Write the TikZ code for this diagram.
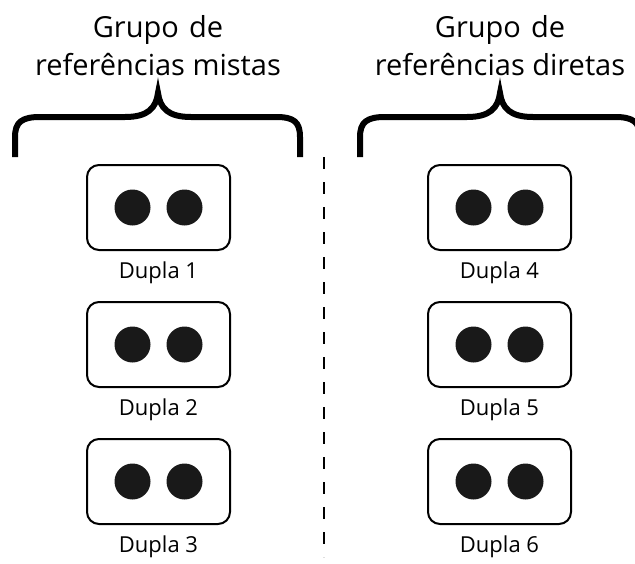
\documentclass[tikz,border=0pt]{standalone}
\usepackage{fontspec}
\setmainfont{Open Sans}
\usetikzlibrary{positioning}

\tikzset{
  pairbox/.style={draw, line width=2pt, rounded corners=12pt, minimum width=143pt, minimum height=85pt, inner sep=0pt},
  pairdot/.style={circle, fill=black!90, minimum size=36pt, inner sep=0pt},
  pairlabel/.style={font=\fontsize{22}{26}\selectfont, inner sep=0pt},
  grouptitle/.style={font=\fontsize{29}{38}\selectfont, align=center, inner sep=0pt},
  groupbrace/.style={line width=6pt, line join=miter},
}

\begin{document}
\begin{tikzpicture}[x=1pt, y=-1pt]
\useasboundingbox (0,0) rectangle (635,563);

% group titles
\node[grouptitle, anchor=base] (titleA) at (158,75) {Grupo\hspace{0.35em}de\\referências mistas};
\node[grouptitle, anchor=base] (titleB) at (500,75) {Grupo\hspace{0.35em}de\\referências diretas};

% braces
\draw[groupbrace] (15,157) -- (15,137) .. controls (15,122) and (22,117) .. (40,117) -- (125,117)
  .. controls (148,117) and (156,108) .. (158,93) .. controls (160,108) and (168,117) .. (191,117)
  -- (276,117) .. controls (294,117) and (300,122) .. (300,137) -- (300,157);
\draw[groupbrace] (360,157) -- (360,137) .. controls (360,122) and (367,117) .. (385,117) -- (467,117)
  .. controls (490,117) and (498,108) .. (500,93) .. controls (502,108) and (510,117) .. (533,117)
  -- (615,117) .. controls (633,117) and (640,122) .. (640,137) -- (640,157);

% separator
\coordinate (sepTop) at (324,157);
\coordinate (sepBot) at (324,557);
\draw[line width=2.5pt, dash pattern=on 12pt off 13pt] (sepTop) -- (sepBot);

% left column
\node[pairbox] (box1) at (158.5,207.5) {};
\node[pairdot] (dot1a) at (132.5,207.5) {};
\node[pairdot] (dot1b) at (184.5,207.5) {};
\node[pairlabel, below=11pt of box1] (lab1) {Dupla 1};

\node[pairbox] (box2) at (158.5,344.5) {};
\node[pairdot] (dot2a) at (132.5,344.5) {};
\node[pairdot] (dot2b) at (184.5,344.5) {};
\node[pairlabel, below=11pt of box2] (lab2) {Dupla 2};

\node[pairbox] (box3) at (158.5,481.5) {};
\node[pairdot] (dot3a) at (132.5,481.5) {};
\node[pairdot] (dot3b) at (184.5,481.5) {};
\node[pairlabel, below=11pt of box3] (lab3) {Dupla 3};

% right column
\node[pairbox] (box4) at (499.5,207.5) {};
\node[pairdot] (dot4a) at (473.5,207.5) {};
\node[pairdot] (dot4b) at (525.5,207.5) {};
\node[pairlabel, below=11pt of box4] (lab4) {Dupla 4};

\node[pairbox] (box5) at (499.5,344.5) {};
\node[pairdot] (dot5a) at (473.5,344.5) {};
\node[pairdot] (dot5b) at (525.5,344.5) {};
\node[pairlabel, below=11pt of box5] (lab5) {Dupla 5};

\node[pairbox] (box6) at (499.5,481.5) {};
\node[pairdot] (dot6a) at (473.5,481.5) {};
\node[pairdot] (dot6b) at (525.5,481.5) {};
\node[pairlabel, below=11pt of box6] (lab6) {Dupla 6};

\end{tikzpicture}
\end{document}
